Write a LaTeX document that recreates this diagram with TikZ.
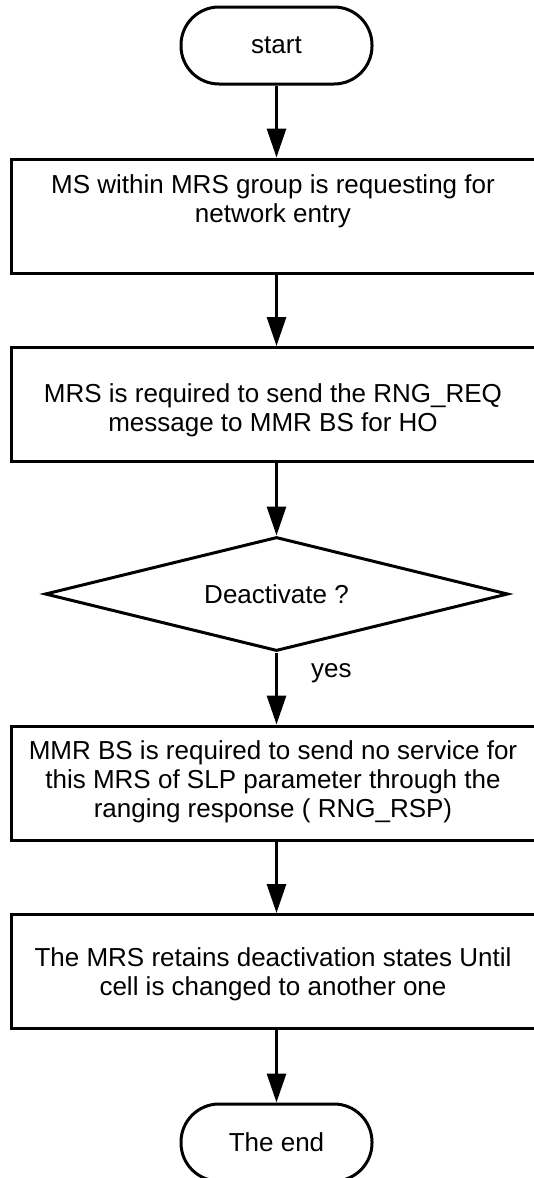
\documentclass[tikz,border=0pt]{standalone}
\usepackage{fontspec}
\setmainfont{Liberation Sans}
\usetikzlibrary{arrows.meta,shapes.geometric}
\begin{document}
\begin{tikzpicture}[x=1pt,y=-1pt,
  every node/.style={font=\fontsize{26}{29}\selectfont, inner sep=0pt},
  procbox/.style={draw, line width=3pt, minimum width=530pt, minimum height=114pt},
  term/.style={draw, line width=3pt, rounded corners=38pt, minimum width=191pt, minimum height=77pt},
  decis/.style={draw, diamond, aspect=4.06, line width=3pt, minimum width=463pt, minimum height=114pt},
  txt/.style={align=center},
  flow/.style={line width=3pt, -{Triangle[length=29pt,width=19pt]}}]
\useasboundingbox (0,0) rectangle (534,1178);
\clip (0,0) rectangle (534,1178);
\node[term] (s) at (276.5,45.5) {start};
\node[procbox] (b1) at (276.5,216) {};
\node[txt] (t1) at (273,201) {MS within MRS group is requesting for\\network entry};
\node[procbox] (b2) at (276.5,404.5) {};
\node[txt] (t2) at (273,410) {MRS is required to send the RNG\_REQ\\message to MMR BS for HO};
\node[decis] (d) at (276.5,594) {Deactivate ?};
\node[anchor=west] (yes) at (311,673) {yes};
\node[procbox] (b3) at (276.5,783) {};
\node[txt] (t3) at (273,782) {MMR BS is required to send no service for\\this MRS of SLP parameter through the\\ranging response ( RNG\_RSP)};
\node[procbox] (b4) at (276.5,971.5) {};
\node[txt] (t4) at (273,974) {The MRS retains deactivation states Until\\cell is changed to another one};
\node[term] (e) at (276.5,1142.5) {The end};
\draw[flow] (s) -- (b1);
\draw[flow] (b1) -- (b2);
\draw[flow] (b2) -- (d);
\draw[flow] (d) -- (b3);
\draw[flow] (b3) -- (b4);
\draw[flow] (b4) -- (e);
\end{tikzpicture}
\end{document}
